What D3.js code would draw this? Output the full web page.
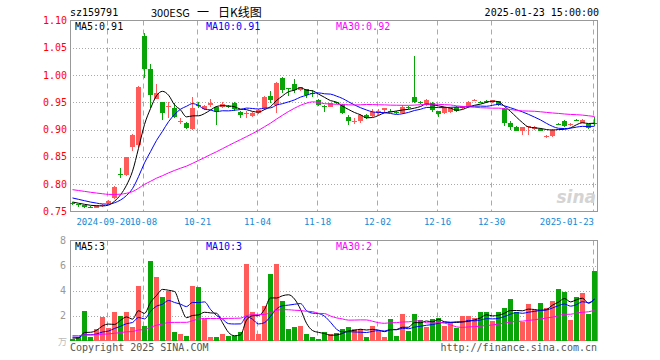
<!DOCTYPE html>
<html>
<head>
<meta charset="utf-8">
<script src="https://cdn.jsdelivr.net/npm/d3@7"></script>
<style>
  html, body { margin: 0; padding: 0; background: #fff; }
  svg text { font-family: "DejaVu Sans Mono", "Liberation Mono", monospace; }
</style>
</head>
<body>
<div id="chart"></div>
<script>
// 日K数据 (2024-09 ~ 2025-01-23)
const opens  = [.766,.763,.761,.759,.757,.760,.766,.774,.818,.817,.869,.871,1.072,1.012,.957,.950,.943,.939,.915,.913,
                .901,.946,.938,.945,.941,.941,.943,.949,.933,.929,.925,.930,.939,.962,.945,.995,.976,.984,.973,.974,
                .968,.955,.944,.942,.950,.946,.924,.914,.915,.927,.925,.930,.936,.935,.932,.930,.941,.959,.950,.945,
                .948,.934,.931,.932,.942,.939,.942,.954,.951,.952,.950,.952,.938,.912,.905,.897,.905,.901,.902,.887,
                .888,.911,.916,.910,.918,.913,.910,.912];
const closes = [.763,.761,.759,.758,.761,.762,.769,.794,.817,.849,.890,.979,1.012,.963,.967,.930,.944,.924,.916,.903,
                .939,.945,.944,.949,.935,.947,.942,.937,.927,.930,.931,.936,.960,.954,.986,.973,.975,.973,.978,.963,
                .967,.945,.943,.948,.949,.930,.915,.915,.927,.921,.933,.934,.939,.934,.931,.942,.940,.950,.949,.954,
                .936,.929,.939,.939,.935,.943,.951,.955,.950,.951,.954,.946,.912,.904,.898,.904,.906,.905,.898,.888,
                .900,.910,.907,.911,.917,.918,.903,.910];
const highs  = [.768,.764,.762,.760,.762,.763,.771,.797,.829,.850,.892,.980,1.078,1.020,.983,.951,.950,.948,.921,.914,
                .959,.951,.945,.956,.943,.950,.945,.950,.934,.934,.933,.938,.961,.971,.987,.996,.977,.992,.979,.975,
                .972,.957,.945,.949,.951,.947,.927,.921,.928,.928,.938,.938,.940,.937,.934,.946,.943,1.035,.953,.956,
                .950,.935,.941,.940,.944,.944,.952,.957,.953,.954,.955,.953,.940,.916,.906,.905,.907,.906,.903,.890,
                .901,.913,.918,.913,.920,.919,.911,.923];
const lows   = [.762,.759,.757,.756,.756,.759,.764,.772,.812,.815,.860,.868,.994,.939,.956,.918,.922,.922,.910,.901,
                .900,.939,.936,.941,.909,.939,.940,.935,.921,.921,.924,.929,.936,.949,.930,.967,.961,.968,.970,.958,
                .960,.943,.933,.941,.947,.929,.909,.911,.912,.920,.924,.926,.930,.932,.929,.929,.938,.948,.947,.944,
                .932,.923,.929,.930,.933,.938,.940,.952,.948,.949,.949,.944,.907,.899,.897,.890,.891,.900,.897,.885,
                .887,.908,.905,.907,.915,.912,.902,.907];
// 成交量 (万)
const volumes = [.15,.25,2.4,.32,.93,1.92,1.0,2.25,1.95,2.3,1.05,4.35,1.2,6.35,5.05,3.5,4.0,.7,.55,.4,
                 4.35,4.25,1.75,.3,.25,.55,.4,.4,.65,6.15,2.3,.5,2.8,5.3,6.1,3.2,.9,1.1,1.2,.5,
                 .3,.15,.65,.5,.6,.95,1.1,.9,.95,.3,1.2,.8,.3,1.7,.4,2.1,.8,2.15,1.65,1.1,
                 1.75,1.8,1.2,1.45,1.0,2.0,2.0,1.8,2.25,2.25,1.55,2.25,2.6,3.35,2.25,1.45,2.9,2.45,3.0,2.6,
                 3.2,4.1,3.9,1.65,3.45,3.8,2.1,5.6];
// 图外之前29日 (estimated, only feeds the moving averages)
const prevCloses = [.808,.806,.807,.804,.802,.803,.800,.801,.799,.797,
                    .798,.795,.796,.793,.794,.791,.790,.792,.789,.788,
                    .786,.784,.783,.780,.778,.772,.769,.767,.766];
const prevVolumes = [.52,.40,.48,.61,.35,.44,.50,.38,.46,.42,
                     .55,.39,.47,.36,.43,.51,.40,.45,.37,.42,
                     .38,.31,.40,.33,.34,.22,.18,.25,.17];

const tickIdx = [6, 12, 21, 31, 41, 51, 61, 70, 87];
const tickLabels = ["2024-09-20", "10-08", "10-21", "11-04", "11-18", "12-02", "12-16", "12-30", "2025-01-23"];
const priceTicks = [1.10, 1.05, 1.00, 0.95, 0.90, 0.85, 0.80, 0.75];
const volTicks = [8, 6, 4, 2];

const C = { up: "#ff5b5b", down: "#08a408", ma5: "#000", ma10: "#0000ff", ma30: "#ff00ff",
            grid: "#aaa", frame: "#999", date: "#1589d6", priceLbl: "#f00", volLbl: "#999" };

const N = closes.length;

function movingAvg(series, prev, n) {
    const all = prev.concat(series);
    return series.map((_, i) => d3.mean(all.slice(i + prev.length - n + 1, i + prev.length + 1)));
}

const svg = d3.select("#chart").append("svg").attr("width", 660).attr("height", 360);

const x = d3.scaleBand().domain(d3.range(N)).range([69, 597]);
const cx = i => x(i) + 3.5;
const y = d3.scaleLinear().domain([0.75, 1.10]).range([211.5, 20.5]);
const yv = d3.scaleLinear().domain([0, 8]).range([340.5, 240.5]);

// --- 标题 ---
const cjk = "'Noto Sans CJK SC', sans-serif";
svg.append("text").attr("x", 70).attr("y", 16).attr("font-size", 10).attr("fill", "#000").text("sz159791");
[["300ESG", 151, 11], ["一", 197, 12], ["日K线图", 218, 12]].forEach(([t, tx, fs]) => {
    svg.append("text").attr("x", tx).attr("y", 17).attr("font-size", fs)
        .style("font-family", cjk).attr("fill", "#000").text(t);
});
svg.append("text").attr("x", 599).attr("y", 16).attr("font-size", 10).attr("text-anchor", "end")
    .attr("fill", "#000").text("2025-01-23 15:00:00");

// --- 网格 ---
function drawPanel(top, bottom, hLines) {
    const g = svg.append("g");
    g.selectAll(".h").data(hLines).join("line")
        .attr("x1", 70).attr("x2", 597).attr("y1", d => d).attr("y2", d => d)
        .attr("stroke", C.grid).attr("stroke-dasharray", "1,2");
    g.selectAll(".v").data(tickIdx).join("line")
        .attr("x1", i => x(i) + 2.5).attr("x2", i => x(i) + 2.5).attr("y1", top).attr("y2", bottom)
        .attr("stroke", C.grid).attr("stroke-dasharray", "5,4");
    g.append("rect").attr("x", 70.5).attr("y", top).attr("width", 527).attr("height", bottom - top)
        .attr("fill", "none").attr("stroke", C.frame);
}
drawPanel(20.5, 211.5, priceTicks.slice(1, -1).map(p => Math.round(y(p)) + 0.5));
drawPanel(240.5, 340.5, volTicks.slice(1).map(v => Math.round(yv(v)) + 0.5));

// --- 价格轴 ---
svg.selectAll(".pl").data(priceTicks).join("text")
    .attr("x", 67).attr("y", d => y(d) + 3.5).attr("text-anchor", "end")
    .attr("font-size", 10).attr("fill", C.priceLbl).text(d => d.toFixed(2));
svg.selectAll(".vl").data(volTicks).join("text")
    .attr("x", 66).attr("y", d => yv(d) + 3.5).attr("text-anchor", "end")
    .attr("font-size", 10).attr("fill", C.volLbl).text(d => d);
svg.append("text").attr("x", 67).attr("y", 345).attr("text-anchor", "end").attr("font-size", 9)
    .style("font-family", cjk).attr("fill", "#bbb").text("万");

// --- 日期 (首个标签稍左移, 与原图一致) ---
const last = tickIdx.length - 1;
svg.selectAll(".dl").data(tickIdx).join("text")
    .attr("x", (d, k) => k === last ? x(d) + 3 : (k === 0 ? x(d) - 1.5 : x(d) + 2.5))
    .attr("y", 225).attr("font-size", 9)
    .attr("text-anchor", (d, k) => k === last ? "end" : "middle")
    .attr("fill", C.date).text((d, k) => tickLabels[k]);

// --- sina 水印 ---
svg.append("text").attr("x", 596).attr("y", 203).attr("text-anchor", "end")
    .attr("font-size", 17).attr("font-weight", "bold").attr("font-style", "italic")
    .style("font-family", "'DejaVu Sans', sans-serif").attr("fill", "#d4d4d4").text("sina");

// --- K线 ---
const candles = svg.append("g").attr("shape-rendering", "crispEdges");
const col = i => closes[i] > opens[i] ? C.up : C.down;
d3.range(N).forEach(i => {
    candles.append("line").attr("x1", cx(i)).attr("x2", cx(i))
        .attr("y1", y(highs[i])).attr("y2", y(lows[i])).attr("stroke", col(i));
    const top = y(Math.max(opens[i], closes[i]));
    const h = Math.max(1, y(Math.min(opens[i], closes[i])) - top);
    candles.append("rect").attr("x", x(i) + 1).attr("width", 5).attr("y", top).attr("height", h)
        .attr("fill", col(i));
});

// --- 成交量 ---
svg.append("g").attr("shape-rendering", "crispEdges")
    .selectAll("rect").data(volumes).join("rect")
    .attr("x", (d, i) => x(i) + 1).attr("width", 5)
    .attr("y", d => yv(d)).attr("height", d => yv(0) - yv(d))
    .attr("fill", (d, i) => col(i));

// --- 均线 ---
const maSpecs = [{ n: 5, color: C.ma5 }, { n: 10, color: C.ma10 }, { n: 30, color: C.ma30 }];
const labelX = [75, 206, 336];
maSpecs.forEach((m, k) => {
    const pm = movingAvg(closes, prevCloses, m.n);
    const vm = movingAvg(volumes, prevVolumes, m.n);
    svg.append("path").datum(pm).attr("fill", "none").attr("stroke", m.color).attr("stroke-width", 1)
        .attr("d", d3.line().x((d, i) => cx(i)).y(d => y(d)).curve(d3.curveMonotoneX));
    svg.append("path").datum(vm).attr("fill", "none").attr("stroke", m.color).attr("stroke-width", 1)
        .attr("d", d3.line().x((d, i) => cx(i)).y(d => yv(d)).curve(d3.curveMonotoneX));
    svg.append("text").attr("x", labelX[k]).attr("y", 30).attr("font-size", 10).attr("fill", m.color)
        .text(`MA${m.n}:${pm[N - 1].toFixed(2)}`);
    svg.append("text").attr("x", labelX[k]).attr("y", 250).attr("font-size", 10).attr("fill", m.color)
        .text(`MA${m.n}:${Math.round(vm[N - 1])}`);
});

// --- 版权 ---
svg.append("text").attr("x", 70).attr("y", 351).attr("font-size", 10).attr("fill", "#555")
    .text("Copyright 2025 SINA.COM");
svg.append("text").attr("x", 597).attr("y", 351).attr("font-size", 10).attr("text-anchor", "end")
    .attr("fill", "#555").text("http://finance.sina.com.cn");
</script>
</body>
</html>
